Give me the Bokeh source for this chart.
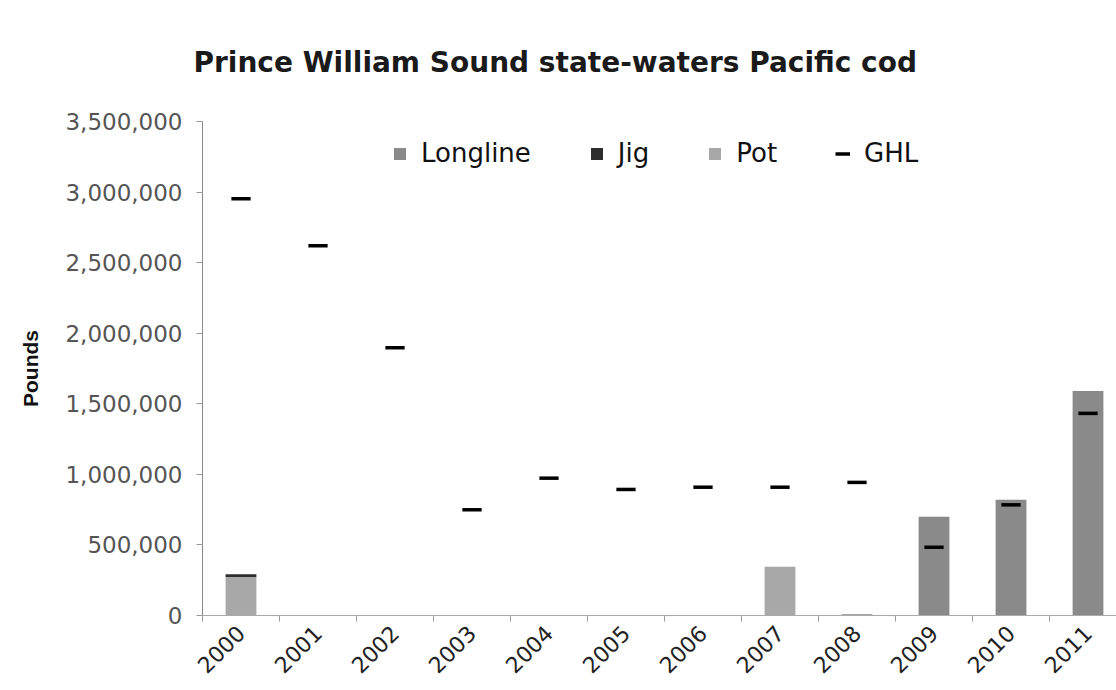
from bokeh.plotting import figure
from bokeh.models import (ColumnDataSource, FixedTicker, NumeralTickFormatter, Range1d,
                          Legend, LegendItem, Title)
from bokeh.transform import dodge
from bokeh.embed import file_html
from bokeh.resources import INLINE
import math

# ---- data ----
years = [2000, 2001, 2002, 2003, 2004, 2005, 2006, 2007, 2008, 2009, 2010, 2011]
longline = [0, 0, 0, 0, 0, 0, 0, 0, 8000, 700000, 820000, 1590000]
jig = [20000, 0, 0, 0, 0, 0, 0, 0, 0, 0, 0, 0]
pot = [272000, 0, 0, 0, 0, 0, 0, 345000, 0, 0, 0, 0]
ghl = [2953000, 2620000, 1897000, 749000, 973000, 893000, 909000, 909000, 943000, 484000, 784000, 1432000]
y_ticks = [0, 500000, 1000000, 1500000, 2000000, 2500000, 3000000, 3500000]
boundaries = [y - 0.5 for y in years] + [years[-1] + 0.5]

src = ColumnDataSource(dict(year=years, longline=longline, jig=jig, pot=pot, ghl=ghl))

FONT = "DejaVu Sans"

p = figure(frame_width=914, frame_height=494,
           min_border_left=202, min_border_right=0, min_border_top=121, min_border_bottom=60,
           x_range=Range1d(1999.5, 2011.37), y_range=Range1d(0, 3500000),
           output_backend="svg", toolbar_location=None, tools="")
p.outline_line_color = None
p.xgrid.visible = False
p.ygrid.visible = False
p.background_fill_color = "white"

col_long = "#8a8a8a"
col_jig = "#2e2e2e"
col_pot = "#a8a8a8"

bars = p.vbar_stack(["pot", "jig", "longline"], x="year", width=0.4, source=src,
                    fill_color=[col_pot, col_jig, col_long], line_color=None)

ghl_r = p.segment(x0=dodge("year", -0.125, range=p.x_range), x1=dodge("year", 0.125, range=p.x_range),
                  y0="ghl", y1="ghl", source=src, line_color="black", line_width=3.5)

# title
t = Title(text="Prince William Sound state-waters Pacific cod", align="left", offset=-9,
          text_font=FONT, text_font_style="bold", text_font_size="28px",
          text_color="#1a1a1a", standoff=86)
p.add_layout(t, "above")

# axes
xa = p.xaxis[0]
xa.ticker = FixedTicker(ticks=years, minor_ticks=boundaries)
xa.major_tick_in = 0
xa.major_tick_out = 0
xa.minor_tick_in = 0
xa.minor_tick_out = 6
xa.minor_tick_line_color = "#999999"
xa.axis_line_color = "#aaaaaa"
xa.major_label_orientation = math.pi / 4
xa.major_label_text_font = FONT
xa.major_label_text_font_size = "22px"
xa.major_label_text_color = "#222222"
xa.major_label_standoff = 8

ya = p.yaxis[0]
ya.ticker = FixedTicker(ticks=y_ticks)
ya.formatter = NumeralTickFormatter(format="0,0")
ya.major_tick_in = 0
ya.major_tick_out = 6
ya.minor_tick_out = 0
ya.minor_tick_in = 0
ya.major_tick_line_color = "#999999"
ya.axis_line_color = "#888888"
ya.major_label_text_font = FONT
ya.major_label_text_font_size = "23px"
ya.major_label_text_color = "#555555"
ya.major_label_standoff = 14
ya.axis_label = "Pounds"
ya.axis_label_text_font = "Liberation Sans"
ya.axis_label_text_font_style = "bold"
ya.axis_label_text_font_size = "21px"
ya.axis_label_text_color = "#111111"
ya.axis_label_standoff = 20

legend = Legend(items=[LegendItem(label="Longline", renderers=[bars[2]]),
                       LegendItem(label="Jig", renderers=[bars[1]]),
                       LegendItem(label="Pot", renderers=[bars[0]]),
                       LegendItem(label="GHL", renderers=[ghl_r])],
                orientation="horizontal", location=(190, 447),
                glyph_width=15, glyph_height=15, label_standoff=14, spacing=58,
                padding=0, margin=0, border_line_color=None, background_fill_alpha=0,
                label_text_font=FONT, label_text_font_size="26px", label_text_color="#111111")
p.add_layout(legend, "center")

open("out.html", "w").write(file_html(p, INLINE))
